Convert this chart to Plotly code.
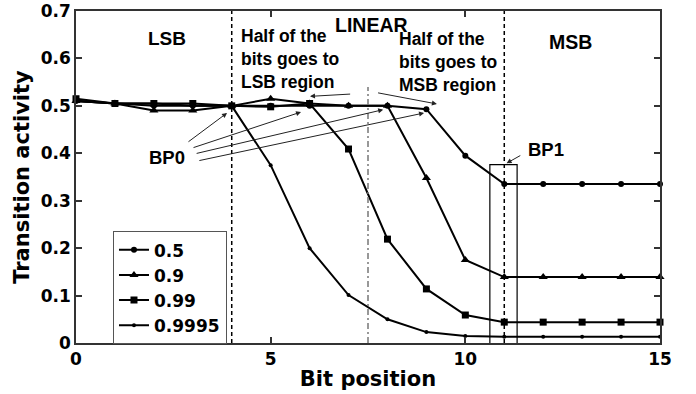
import plotly.graph_objects as go

# Bit positions and transition activity per correlation coefficient
bit_pos = list(range(16))
rho_labels = ["0.5", "0.9", "0.99", "0.9995"]
act_05 = [0.51, 0.505, 0.5, 0.5, 0.5, 0.5, 0.5, 0.5, 0.5, 0.493, 0.395,
          0.335, 0.335, 0.335, 0.335, 0.335]
act_09 = [0.51, 0.505, 0.49, 0.49, 0.5, 0.515, 0.505, 0.5, 0.5, 0.348, 0.175,
          0.139, 0.139, 0.139, 0.139, 0.139]
act_099 = [0.515, 0.505, 0.505, 0.505, 0.5, 0.498, 0.505, 0.409, 0.219, 0.114,
           0.059, 0.044, 0.044, 0.044, 0.044, 0.044]
act_09995 = [0.51, 0.505, 0.505, 0.5, 0.5, 0.375, 0.2, 0.101, 0.05, 0.023,
             0.015, 0.013, 0.013, 0.013, 0.013, 0.013]
x_ticks = [0, 5, 10, 15]
y_ticks = [0, 0.1, 0.2, 0.3, 0.4, 0.5, 0.6, 0.7]
y_tick_text = ["0", "0.1", "0.2", "0.3", "0.4", "0.5", "0.6", "0.7"]

# Region boundaries and breakpoint markers
bp0_x = 4
mid_x = 7.5
bp1_x = 11

WIDE = "DejaVu Sans"
ARIAL = "Arial, Liberation Sans, sans-serif"

series = [
    (act_05, rho_labels[0], "circle", 6),
    (act_09, rho_labels[1], "triangle-up", 8),
    (act_099, rho_labels[2], "square", 7),
    (act_09995, rho_labels[3], "circle", 4),
]

fig = go.Figure()
for vals, name, sym, size in series:
    fig.add_trace(go.Scatter(
        x=bit_pos, y=vals, name=name, mode="lines+markers",
        line=dict(color="black", width=2),
        marker=dict(symbol=sym, size=size, color="black"),
        cliponaxis=False,
    ))

# Region separators
fig.add_shape(type="line", x0=bp0_x, x1=bp0_x, y0=0, y1=0.7,
              line=dict(color="black", width=1.5, dash="4px,3px"))
fig.add_shape(type="line", x0=bp1_x, x1=bp1_x, y0=0, y1=0.7,
              line=dict(color="black", width=1.5, dash="4px,3px"))
fig.add_shape(type="line", x0=mid_x, x1=mid_x, y0=0, y1=0.54,
              line=dict(color="#777777", width=1.5, dash="6px,3px,2px,3px"))
# BP1 highlight box
fig.add_shape(type="rect", x0=10.63, x1=11.33, y0=-0.006, y1=0.376,
              line=dict(color="black", width=1.2))

def arrow(x, y, ax, ay):
    fig.add_annotation(x=x, y=y, ax=ax, ay=ay, xref="x", yref="y",
                       axref="x", ayref="y", text="", showarrow=True,
                       arrowhead=2, arrowsize=1, arrowwidth=1,
                       arrowcolor="#222222", standoff=0)

# BP0 pointers
arrow(3.88, 0.485, 2.85, 0.422)
arrow(5.78, 0.487, 2.98, 0.411)
arrow(7.89, 0.492, 3.06, 0.399)
arrow(8.94, 0.485, 3.13, 0.384)
# Half-of-bits pointers
arrow(6.01, 0.520, 7.08, 0.525)
arrow(9.27, 0.504, 7.72, 0.528)
# BP1 pointer
arrow(11.06, 0.379, 11.45, 0.397)

def label(text, x, y, size, xanchor="center"):
    fig.add_annotation(x=x, y=y, xref="x", yref="y", text=text,
                       showarrow=False, xanchor=xanchor, yanchor="middle",
                       align="left",
                       font=dict(family=ARIAL, size=size, color="black",
                                 weight="bold"))

label("LSB", 2.34, 0.642, 19)
label("LINEAR", 7.6, 0.671, 19.5)
label("MSB", 12.69, 0.635, 19.5)
label("Half of the<br>bits goes to<br>LSB region", 4.19, 0.598, 17.5, "left")
label("Half of the<br>bits goes to<br>MSB region", 8.24, 0.592, 17.5, "left")
label("BP0", 2.34, 0.392, 18.5)
label("BP1", 12.07, 0.408, 18.5)

axis_common = dict(
    showline=True, linecolor="#333333", linewidth=1.5, mirror="ticks",
    ticks="inside", ticklen=6, tickcolor="#333333", tickwidth=1.5,
    showgrid=False, zeroline=False, automargin=False,
    tickfont=dict(family=WIDE, size=17, color="black", weight="bold"),
)

fig.update_xaxes(range=[0, 15], tickvals=x_ticks, **axis_common,
                 title=dict(text="Bit position", standoff=3,
                            font=dict(family=WIDE, size=21, color="black",
                                      weight="bold")))
fig.update_yaxes(range=[0, 0.7], tickvals=y_ticks, ticktext=y_tick_text,
                 **axis_common,
                 title=dict(text="Transition activity", standoff=5,
                            font=dict(family=WIDE, size=21, color="black",
                                      weight="bold")))

fig.update_layout(
    width=696, height=394,
    margin=dict(l=76, r=36, t=11, b=51, autoexpand=False),
    plot_bgcolor="white", paper_bgcolor="white",
    showlegend=True,
    legend=dict(x=0.063, y=0.337, xanchor="left", yanchor="top",
                bgcolor="white", bordercolor="#555555", borderwidth=1.2,
                font=dict(family=WIDE, size=17, color="black", weight="bold"),
                itemwidth=30, tracegroupgap=0),
)

fig.write_html("out.html")
